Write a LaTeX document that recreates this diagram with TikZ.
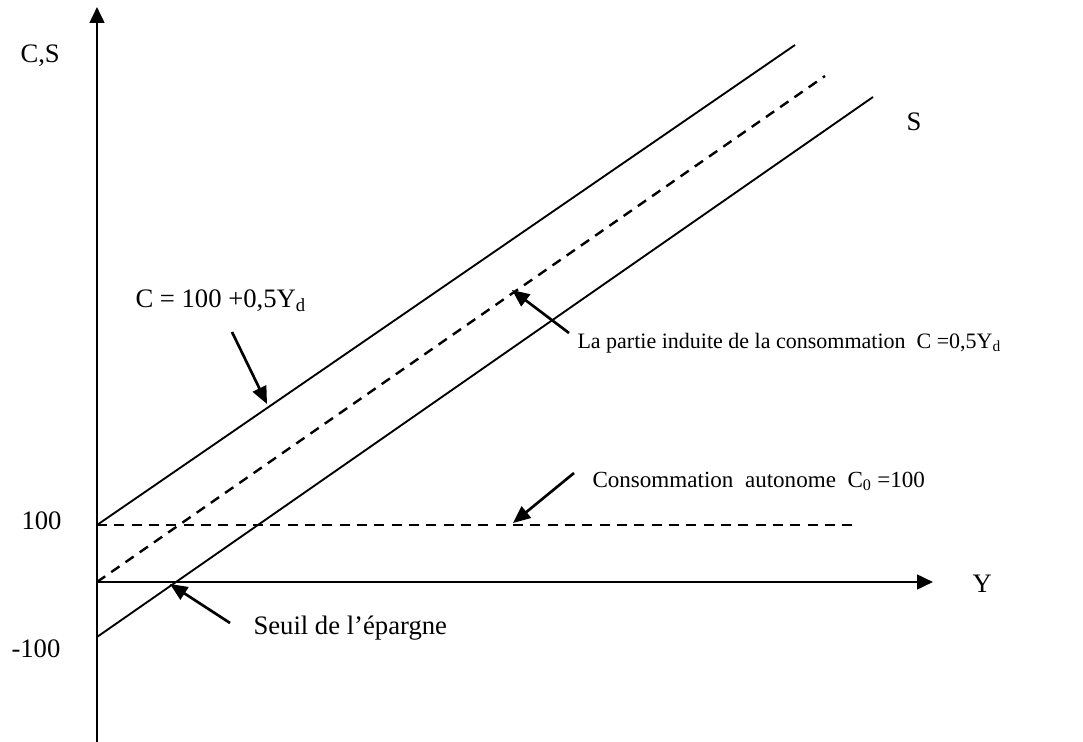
\documentclass[tikz,border=0pt]{standalone}
\usepackage{fontspec}
\setmainfont{Liberation Serif}
\usetikzlibrary{arrows.meta}

\tikzset{every picture/.style={line width=0.75pt}}

\begin{document}
\begin{tikzpicture}[x=0.75pt,y=0.75pt,yscale=-1,xscale=1,
	axis/.style={line width=2pt,-{Triangle[length=12pt,width=11pt]}},
	curve/.style={line width=1.4pt},
	dashcurve/.style={line width=1.8pt,dash pattern=on 7.5pt off 5.5pt},
	pointer/.style={line width=2pt,-{Triangle[length=13pt,width=11pt]}},
	lbl/.style={anchor=base west,inner sep=0pt,font=\fontsize{20}{23}\selectfont}]
	\useasboundingbox (0,0) rectangle (1083,742);

	%Points
	\coordinate (orig) at (97,582);
	\coordinate (ybot) at (97,742);
	\coordinate (ytop) at (97,7);
	\coordinate (xend) at (933,582);
	\coordinate (cA) at (97,525);
	\coordinate (cB) at (795,45);
	\coordinate (iA) at (97,582);
	\coordinate (iB) at (825,76);
	\coordinate (sA) at (97,637);
	\coordinate (sB) at (873,97);
	\coordinate (aA) at (97,525);
	\coordinate (aB) at (858,525);

	%Shape: Axis 2D
	\draw[axis] (ybot) -- (ytop);
	\draw[axis] (orig) -- (xend);
	%Straight Lines: C
	\draw[curve] (cA) -- (cB);
	%Straight Lines: partie induite
	\draw[dashcurve] (iA) -- (iB);
	%Straight Lines: S
	\draw[curve] (sA) -- (sB);
	%Straight Lines: autonome
	\draw[dashcurve] (aA) -- (aB);

	% Text Node
	\node[lbl] (labCS) at (20,63) {C,S};
	% Text Node
	\node[lbl] (labY) at (972,592) {Y};
	% Text Node
	\node[lbl] (lab100) at (21,529) {100};
	% Text Node
	\node[lbl] (labm100) at (11,657) {-100};
	% Text Node
	\node[lbl] (labS) at (906,131) {S};
	% Text Node
	\node[lbl] (labC) at (135,307) {C = 100 +0,5Y\textsubscript{d}};
	% Text Node
	\node[lbl,font=\fontsize{16.5}{20}\selectfont] (labInd) at (577,348) {La partie induite de la consommation\ \ C =0,5Y\textsubscript{d}};
	% Text Node
	\node[lbl,font=\fontsize{17.3}{20}\selectfont] (labAut) at (592,487) {Consommation\ \ autonome\ \ C\textsubscript{0} =100};
	% Text Node
	\node[lbl] (labSeuil) at (253,634) {Seuil de l’épargne};

	%Pointers
	\coordinate (pC1) at (232,332);
	\coordinate (pC2) at (267,404);
	\coordinate (pI1) at (569,333);
	\coordinate (pI2) at (512,290);
	\coordinate (pA1) at (574,473);
	\coordinate (pA2) at (513,523);
	\coordinate (pS1) at (230,623);
	\coordinate (pS2) at (170,584);
	\draw[pointer] (pC1) -- (pC2);
	\draw[pointer] (pI1) -- (pI2);
	\draw[pointer] (pA1) -- (pA2);
	\draw[pointer] (pS1) -- (pS2);

\end{tikzpicture}
\end{document}
